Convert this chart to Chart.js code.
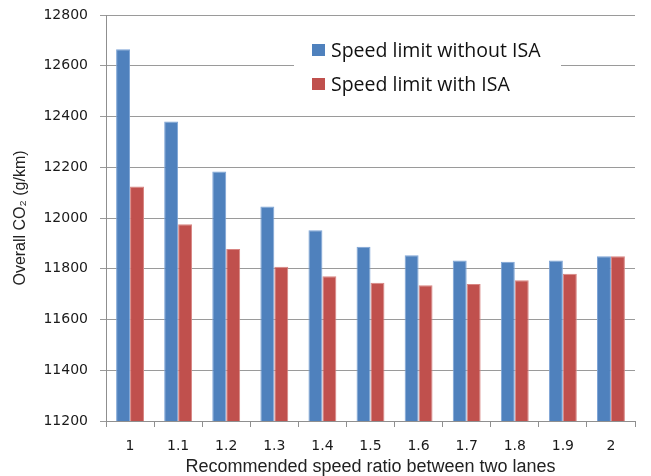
<!DOCTYPE html>
<html>
<head>
<meta charset="utf-8">
<script src="https://cdn.jsdelivr.net/npm/chart.js@4"></script>
<style>
    html, body { margin: 0; padding: 0; background: #fff; }
    #wrap { width: 651px; height: 476px; }
</style>
</head>
<body>
<div id="wrap"><canvas id="co2Chart" width="651" height="476"></canvas></div>
<script>
// values
const speedRatios = ['1', '1.1', '1.2', '1.3', '1.4', '1.5', '1.6', '1.7', '1.8', '1.9', '2'];
const withoutISA = [12665, 12380, 12183, 12045, 11952, 11887, 11853, 11833, 11828, 11833, 11849];
const withISA = [12124, 11975, 11878, 11808, 11770, 11745, 11735, 11740, 11755, 11780, 11849];
const seriesNames = ['Speed limit without ISA', 'Speed limit with ISA'];
const yTicks = [11200, 11400, 11600, 11800, 12000, 12200, 12400, 12600, 12800];

// legend drawn inside the plot, on a white box like the original
const boxLegend = {
    id: 'boxLegend',
    afterDatasetsDraw(chart) {
        const ctx = chart.ctx;
        ctx.save();
        ctx.fillStyle = '#fff';
        ctx.fillRect(294, 22, 267, 88);
        ctx.font = '19.5px "Open Sans"';
        ctx.textBaseline = 'middle';
        chart.data.datasets.forEach(function(ds, i) {
            const y = 50 + i * 34;
            ctx.fillStyle = ds.backgroundColor;
            ctx.fillRect(312, y - 6, 13, 12);
            ctx.fillStyle = '#111';
            ctx.fillText(ds.label, 331, y + 1);
        });
        ctx.restore();
    }
};

var ctx = document.getElementById('co2Chart').getContext('2d');
var chart = new Chart(ctx, {
    type: 'bar',
    data: {
        labels: speedRatios,
        datasets: [{
            label: seriesNames[0],
            data: withoutISA,
            backgroundColor: '#4F81BD',
            borderColor: '#7da4d6',
            borderWidth: 1,
            barPercentage: 1,
            categoryPercentage: 0.58
        }, {
            label: seriesNames[1],
            data: withISA,
            backgroundColor: '#C0504D',
            borderColor: '#d88582',
            borderWidth: 1,
            barPercentage: 1,
            categoryPercentage: 0.58
        }]
    },
    options: {
        responsive: false,
        animation: false,
        layout: { padding: { top: 15, right: 16, bottom: 0, left: 0 } },
        plugins: {
            legend: { display: false },
            tooltip: { enabled: false }
        },
        scales: {
            x: {
                grid: {
                    offset: true,
                    drawOnChartArea: false,
                    color: '#8f8f8f',
                    tickLength: 6
                },
                border: { color: '#8f8f8f' },
                ticks: {
                    color: '#1a1a1a',
                    font: { family: 'DejaVu Sans', size: 14 },
                    padding: 11,
                    maxRotation: 0
                },
                title: {
                    display: true,
                    text: 'Recommended speed ratio between two lanes',
                    color: '#222',
                    font: { family: 'Liberation Sans', size: 18, lineHeight: 1 },
                    padding: { top: 0, bottom: 0 }
                },
                afterFit: function(scale) {
                    scale.height = 55;
                    scale.paddingLeft = 0;
                    scale.paddingRight = 0;
                }
            },
            y: {
                min: 11200,
                max: 12800,
                afterBuildTicks: function(scale) {
                    scale.ticks = yTicks.map(function(v) { return { value: v }; });
                },
                grid: {
                    color: '#9a9a9a',
                    tickLength: 6
                },
                border: { color: '#8f8f8f' },
                ticks: {
                    color: '#1a1a1a',
                    font: { family: 'DejaVu Sans', size: 14 },
                    padding: 12,
                    callback: function(v) { return String(v); }
                },
                title: {
                    display: true,
                    text: 'Overall CO\u2082 (g/km)',
                    color: '#222',
                    font: { family: 'Liberation Sans', size: 16, lineHeight: 1.2 },
                    padding: { top: 11, bottom: 0 }
                },
                afterFit: function(scale) {
                    scale.width = 106;
                    scale.paddingTop = 0;
                    scale.paddingBottom = 0;
                }
            }
        }
    },
    plugins: [boxLegend]
});
</script>
</body>
</html>
